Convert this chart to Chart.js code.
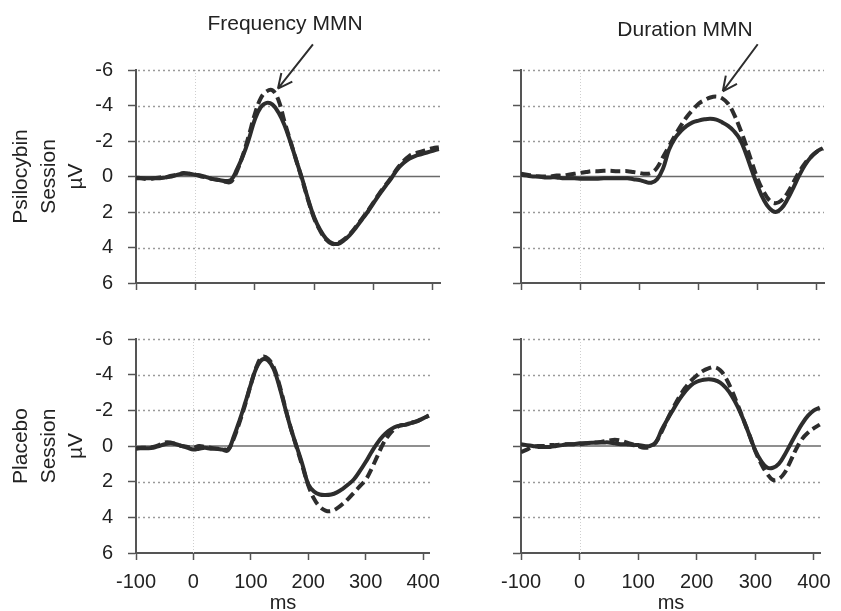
<!DOCTYPE html>
<html>
<head>
<meta charset="utf-8">
<script src="https://cdn.jsdelivr.net/npm/chart.js@4.4.1/dist/chart.umd.min.js"></script>
<style>
  body { margin: 0; background: #fff; }
  #wrap { position: relative; width: 841px; height: 611px; overflow: hidden; }
  canvas { position: absolute; }
</style>
</head>
<body>
<div id="wrap">
  <canvas id="psiFreq" width="450" height="311" style="left:0;top:0"></canvas>
  <canvas id="psiDur" width="391" height="311" style="left:450px;top:0"></canvas>
  <canvas id="plaFreq" width="450" height="311" style="left:0;top:300px"></canvas>
  <canvas id="plaDur" width="391" height="311" style="left:450px;top:300px"></canvas>
</div>
<script>
// ---------- Data (µV, negative is drawn up) ----------
const ms = [-100, -90, -80, -70, -60, -50, -40, -30, -20, -10,
  0, 10, 20, 30, 40, 50, 60, 70, 80, 90,
  100, 110, 120, 130, 140, 150, 160, 170, 180, 190,
  200, 210, 220, 230, 240, 250, 260, 270, 280, 290,
  300, 310, 320, 330, 340, 350, 360, 370, 380, 390,
  400, 410];

const xTicks = [-100, 0, 100, 200, 300, 400];
const yTicks = [-6, -4, -2, 0, 2, 4, 6];

// Psilocybin session, frequency MMN
const psiFreqSolid = [0.05, 0.1, 0.1, 0.1, 0.1, 0.05, 0, -0.1, -0.15, -0.15,
  -0.1, -0.05, 0.05, 0.15, 0.2, 0.25, 0.2, -0.4, -1.15, -2.1,
  -3.2, -3.9, -4.15, -4.05, -3.6, -2.9, -1.95, -0.9, 0.15, 1.3,
  2.3, 3.0, 3.5, 3.75, 3.8, 3.6, 3.3, 2.9, 2.45, 2.0,
  1.5, 1.0, 0.55, 0.1, -0.4, -0.75, -1.0, -1.15, -1.25, -1.35,
  -1.45, -1.55];
const psiFreqDashed = [0.1, 0.1, 0.15, 0.1, 0.05, 0.05, -0.05, -0.1, -0.2, -0.15,
  -0.1, 0, 0.05, 0.15, 0.2, 0.3, 0.3, -0.3, -1.2, -2.3,
  -3.5, -4.4, -4.8, -4.85, -4.3, -3.1, -2.0, -0.9, 0.2, 1.35,
  2.35, 3.05, 3.55, 3.8, 3.75, 3.55, 3.25, 2.85, 2.4, 1.95,
  1.45, 0.95, 0.5, 0.05, -0.45, -0.85, -1.15, -1.3, -1.4, -1.5,
  -1.6, -1.65];

// Psilocybin session, duration MMN
const psiDurSolid = [-0.1, -0.05, 0, 0, 0.05, 0.05, 0.05, 0.1, 0.1, 0.1,
  0.12, 0.13, 0.13, 0.12, 0.1, 0.1, 0.1, 0.1, 0.1, 0.15,
  0.2, 0.3, 0.35, 0.15, -0.45, -1.5, -2.15, -2.55, -2.85, -3.05,
  -3.15, -3.22, -3.25, -3.2, -3.05, -2.85, -2.55, -2.1, -1.3, -0.35,
  0.55, 1.3, 1.8, 2.0, 1.8, 1.3, 0.65, -0.05, -0.65, -1.1,
  -1.4, -1.6];
const psiDurDashed = [-0.15, -0.1, -0.05, 0, 0, 0, -0.05, -0.05, -0.1, -0.15,
  -0.2, -0.25, -0.3, -0.3, -0.32, -0.32, -0.3, -0.3, -0.3, -0.25,
  -0.2, -0.15, -0.2, -0.5, -1.1, -1.7, -2.3, -2.85, -3.35, -3.75,
  -4.1, -4.3, -4.45, -4.5, -4.4, -4.1, -3.5, -2.7, -1.8, -0.8,
  0.15, 0.85, 1.35, 1.5, 1.35, 0.95, 0.35, -0.25, -0.75, -1.1,
  -1.4, -1.55];

// Placebo session, frequency MMN
const plaFreqSolid = [0.13, 0.13, 0.13, 0.1, 0, -0.1, -0.15, -0.1, 0, 0.1,
  0.2, 0.15, 0.1, 0.15, 0.15, 0.2, 0.25, -0.5, -1.4, -2.4,
  -3.45, -4.4, -4.85, -4.8, -4.3, -3.3, -2.1, -0.95, 0.05, 1.05,
  2.15, 2.55, 2.72, 2.75, 2.72, 2.6, 2.4, 2.15, 1.85, 1.4,
  0.9, 0.35, -0.15, -0.55, -0.85, -1.05, -1.15, -1.2, -1.3, -1.4,
  -1.55, -1.7];
const plaFreqDashed = [0.15, 0.1, 0.1, 0.05, -0.05, -0.2, -0.2, -0.1, 0, 0.05,
  0.1, 0, 0.05, 0.1, 0.15, 0.15, 0.2, -0.4, -1.3, -2.3,
  -3.45, -4.45, -5.0, -4.9, -4.4, -3.4, -2.15, -0.95, 0.1, 1.15,
  2.2, 2.95, 3.4, 3.62, 3.65, 3.5, 3.25, 2.95, 2.6, 2.25,
  1.9, 1.3, 0.6, -0.1, -0.6, -0.95, -1.15, -1.2, -1.3, -1.4,
  -1.55, -1.7];

// Placebo session, duration MMN
const plaDurSolid = [-0.1, -0.05, 0, 0.05, 0.05, 0.05, 0, -0.05, -0.1, -0.1,
  -0.15, -0.15, -0.18, -0.2, -0.2, -0.2, -0.15, -0.1, -0.1, -0.05,
  -0.05, 0, 0, -0.2, -0.9, -1.5, -2.05, -2.6, -3.05, -3.4,
  -3.6, -3.7, -3.75, -3.7, -3.55, -3.25, -2.8, -2.2, -1.45, -0.6,
  0.25, 0.85, 1.2, 1.22, 1.0, 0.5, -0.1, -0.7, -1.25, -1.7,
  -2.0, -2.15];
const plaDurDashed = [0.35, 0.2, 0.05, 0, 0, -0.05, -0.05, -0.1, -0.1, -0.1,
  -0.1, -0.15, -0.2, -0.2, -0.25, -0.3, -0.35, -0.3, -0.2, -0.1,
  0, 0.1, 0.05, -0.2, -0.8, -1.5, -2.15, -2.75, -3.25, -3.65,
  -3.95, -4.2, -4.35, -4.42, -4.25, -3.8, -3.1, -2.3, -1.45, -0.6,
  0.3, 1.0, 1.55, 1.9, 1.85, 1.5, 0.85, 0.15, -0.4, -0.75,
  -1.0, -1.2];

// ---------- Shared look ----------
const FONT = '"Liberation Sans", Arial, Helvetica, sans-serif';
const INK = '#2d2d2d';
Chart.defaults.font.family = FONT;
Chart.defaults.color = '#222';

// grid lines, zero line, title and arrow
const panelDecor = {
  id: 'panelDecor',
  beforeDatasetsDraw(chart) {
    const { ctx, chartArea: a, scales: { x, y } } = chart;
    ctx.save();

    // dotted horizontal grid
    ctx.strokeStyle = '#9a9a9a';
    ctx.lineWidth = 1.5;
    ctx.setLineDash([2, 3]);
    yTicks.filter(v => v !== 0 && v !== 6).forEach(v => {
      const py = Math.round(y.getPixelForValue(v)) + 0.5;
      ctx.beginPath();
      ctx.moveTo(a.left + 2, py);
      ctx.lineTo(a.right, py);
      ctx.stroke();
    });

    // faint dotted line at stimulus onset
    ctx.strokeStyle = '#cfcfcf';
    ctx.lineWidth = 1;
    ctx.setLineDash([1, 2]);
    const px = Math.round(x.getPixelForValue(0)) + 0.5;
    ctx.beginPath();
    ctx.moveTo(px, a.top);
    ctx.lineTo(px, a.bottom);
    ctx.stroke();

    // solid zero line
    ctx.setLineDash([]);
    ctx.strokeStyle = '#6a6a6a';
    ctx.lineWidth = 1.5;
    const p0 = y.getPixelForValue(0);
    ctx.beginPath();
    ctx.moveTo(a.left, p0);
    ctx.lineTo(a.right, p0);
    ctx.stroke();

    ctx.restore();
  },
  afterDraw(chart, args, opts) {
    const { ctx, scales: { x, y } } = chart;
    ctx.save();
    if (opts.title) {
      ctx.fillStyle = '#222';
      ctx.font = '21px ' + FONT;
      ctx.textAlign = 'center';
      ctx.textBaseline = 'middle';
      ctx.fillText(opts.title, opts.titleX, opts.titleY);
    }
    if (opts.arrow) {
      const x1 = x.getPixelForValue(opts.arrow.from[0]);
      const y1 = y.getPixelForValue(opts.arrow.from[1]);
      const x2 = x.getPixelForValue(opts.arrow.to[0]);
      const y2 = y.getPixelForValue(opts.arrow.to[1]);
      const ang = Math.atan2(y2 - y1, x2 - x1);
      ctx.strokeStyle = INK;
      ctx.lineWidth = 2;
      ctx.beginPath();
      ctx.moveTo(x1, y1);
      ctx.lineTo(x2, y2);
      [-0.45, 0.45].forEach(d => {
        ctx.moveTo(x2, y2);
        ctx.lineTo(x2 - 16 * Math.cos(ang + d), y2 - 16 * Math.sin(ang + d));
      });
      ctx.stroke();
    }
    ctx.restore();
  }
};

function toPoints(vals) {
  return ms.map((t, i) => ({ x: t, y: vals[i] }));
}

function makePanel(id, solid, dashed, cfg) {
  return new Chart(document.getElementById(id), {
    type: 'line',
    data: {
      datasets: [
        {
          label: 'dashed',
          data: toPoints(dashed),
          borderColor: INK,
          borderWidth: 4,
          borderDash: [10, 5],
          pointRadius: 0,
          tension: 0.4,
        },
        {
          label: 'solid',
          data: toPoints(solid),
          borderColor: INK,
          borderWidth: 4,
          pointRadius: 0,
          tension: 0.4,
        },
      ],
    },
    options: {
      responsive: false,
      animation: false,
      layout: { padding: cfg.padding },
      plugins: {
        legend: { display: false },
        tooltip: { enabled: false },
        panelDecor: cfg.decor,
      },
      scales: {
        x: {
          type: 'linear',
          min: -100,
          max: 412,
          afterBuildTicks: s => { s.ticks = xTicks.map(v => ({ value: v })); },
          afterFit: s => { s.height = cfg.xHeight; },
          grid: { color: 'rgba(0,0,0,0)', tickColor: '#555', tickLength: 7, tickWidth: 1.5 },
          border: { color: '#555', width: 2 },
          ticks: { display: cfg.xLabels, font: { size: 20 }, padding: 10, maxRotation: 0 },
          title: {
            display: cfg.xLabels,
            text: 'ms',
            font: { size: 20, lineHeight: 1 },
            padding: { top: 0, bottom: -2 },
          },
        },
        y: {
          type: 'linear',
          min: -6,
          max: 6,
          reverse: true,
          afterBuildTicks: s => { s.ticks = yTicks.map(v => ({ value: v })); },
          afterFit: s => { s.width = cfg.yWidth; },
          grid: { color: 'rgba(0,0,0,0)', tickColor: '#555', tickLength: 8, tickWidth: 1.5 },
          border: { color: '#555', width: 2 },
          ticks: { display: !!cfg.yTitle, font: { size: 20 }, padding: 15 },
          title: {
            display: !!cfg.yTitle,
            text: cfg.yTitle || '',
            font: { size: 21, lineHeight: 1.3 },
            padding: { top: 8, bottom: 0 },
          },
        },
      },
    },
    plugins: [panelDecor],
  });
}

// ---------- Panels ----------
makePanel('psiFreq', psiFreqSolid, psiFreqDashed, {
  padding: { top: 70, right: 10, bottom: 0, left: 0 },
  xHeight: 28, yWidth: 136, xLabels: false,
  yTitle: ['Psilocybin', 'Session', 'µV'],
  decor: { title: 'Frequency MMN', titleX: 285, titleY: 24, arrow: { from: [198, -7.45], to: [139, -4.95] } },
});

makePanel('psiDur', psiDurSolid, psiDurDashed, {
  padding: { top: 70, right: 17, bottom: 0, left: 0 },
  xHeight: 28, yWidth: 71, xLabels: false,
  decor: { title: 'Duration MMN', titleX: 235, titleY: 30, arrow: { from: [300, -7.45], to: [241, -4.8] } },
});

makePanel('plaFreq', plaFreqSolid, plaFreqDashed, {
  padding: { top: 39, right: 10, bottom: 0, left: 0 },
  xHeight: 58, yWidth: 136, xLabels: true,
  yTitle: ['Placebo', 'Session', 'µV'],
  decor: {},
});

makePanel('plaDur', plaDurSolid, plaDurDashed, {
  padding: { top: 39, right: 17, bottom: 0, left: 0 },
  xHeight: 58, yWidth: 71, xLabels: true,
  decor: {},
});
</script>
</body>
</html>
